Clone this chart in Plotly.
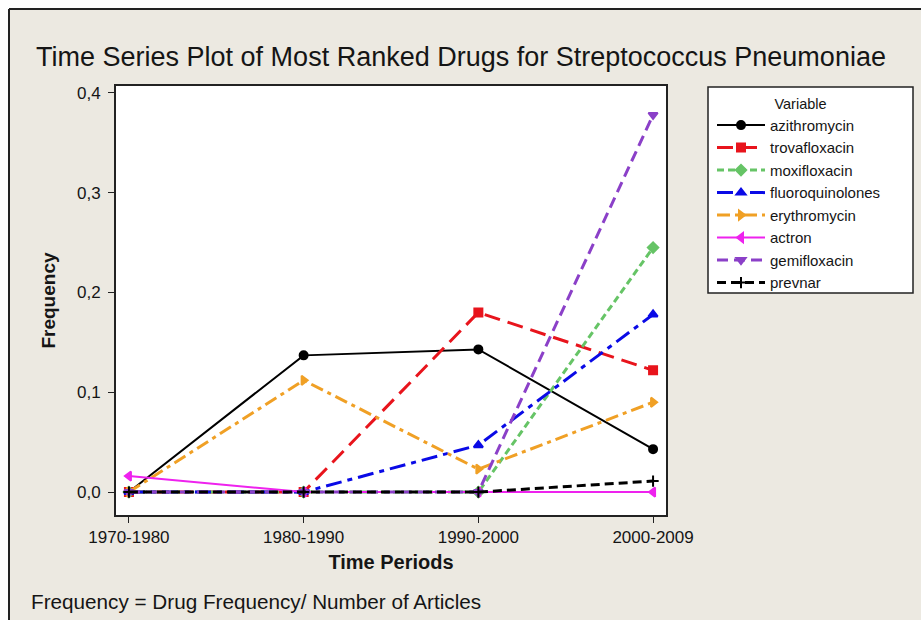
import plotly.graph_objects as go

# Time periods on the x axis
periods = ["1970-1980", "1980-1990", "1990-2000", "2000-2009"]

# Frequency (drug frequency / number of articles) per period
azithromycin = [0.0, 0.137, 0.143, 0.043]
trovafloxacin = [0.0, 0.0, 0.180, 0.122]
moxifloxacin = [0.0, 0.0, 0.0, 0.245]
fluoroquinolones = [0.0, 0.0, 0.047, 0.178]
erythromycin = [0.0, 0.112, 0.023, 0.090]
actron = [0.016, 0.0, 0.0, 0.0]
gemifloxacin = [0.0, 0.0, 0.0, 0.378]
prevnar = [0.0, 0.0, 0.0, 0.011]

y_ticks = [0.0, 0.1, 0.2, 0.3, 0.4]

series = [
    ("azithromycin", azithromycin, "#000000", "solid", "circle", 2),
    ("trovafloxacin", trovafloxacin, "#E8141C", "16px,8px", "square", 3),
    ("moxifloxacin", moxifloxacin, "#66C466", "7px,4px", "diamond", 3),
    ("fluoroquinolones", fluoroquinolones, "#0A0AE6", "16px,6px,5px,6px", "triangle-up", 3),
    ("erythromycin", erythromycin, "#F0A025", "13px,5px,4px,5px", "triangle-right", 3),
    ("actron", actron, "#EE22EE", "solid", "triangle-left", 2),
    ("gemifloxacin", gemifloxacin, "#8B40C8", "11px,6px", "triangle-down", 3),
    ("prevnar", prevnar, "#000000", "9px,5px", "cross-thin", 3),
]

x_idx = list(range(len(periods)))

fig = go.Figure()
for i, (name, vals, color, dash, symbol, width) in enumerate(series):
    fig.add_trace(go.Scatter(
        x=x_idx, y=vals, name=name, mode="lines+markers",
        legendgroup=f"g{i}",
        line=dict(color=color, width=width, dash=dash),
        marker=dict(symbol=symbol, size=8, color=color,
                    line=dict(color=color, width=2)),
    ))

BG = "#ECE9E1"
FONT = "Liberation Sans"
INK = "#151515"

# plot area in pixels: x 116..666, y 86..515
L, R, T, B = 116, 666, 86, 515
W, H = 921, 620


def px(xp):
    return (xp - L) / (R - L)


def py(yp):
    return (B - yp) / (B - T)


fig.update_layout(
    width=W, height=H,
    margin=dict(l=L, r=W - R, t=T, b=H - B),
    paper_bgcolor=BG, plot_bgcolor="white",
    separators=", ",
    font=dict(family=FONT, color=INK, size=15),
    title=dict(text="Time Series Plot of Most Ranked Drugs for Streptococcus Pneumoniae",
               x=461 / W, xref="container", xanchor="center",
               y=1 - 57 / H, yref="container", yanchor="middle",
               font=dict(family=FONT, size=27, color=INK)),
    showlegend=True,
    legend=dict(
        x=px(712), y=py(90), xanchor="left", yanchor="top",
        bgcolor="rgba(0,0,0,0)", borderwidth=0,
        title=dict(text="               Variable", font=dict(size=14.5, family=FONT)),
        font=dict(size=15, family=FONT),
        tracegroupgap=0, itemwidth=48,
    ),
    xaxis=dict(
        range=[-0.074, 3.074], tickvals=x_idx, ticktext=periods,
        showgrid=False, zeroline=False,
        showline=True, linecolor="#222222", linewidth=2, mirror=True,
        ticks="outside", ticklen=6, tickcolor="#222222", tickwidth=1,
        tickfont=dict(size=17, family=FONT),
        title=dict(text="<b>Time Periods</b>", font=dict(size=20, family=FONT), standoff=9),
    ),
    yaxis=dict(
        range=[-0.023, 0.407], tickvals=y_ticks, tickformat=".1f",
        showgrid=False, zeroline=False,
        showline=True, linecolor="#222222", linewidth=2, mirror=True,
        ticks="outside", ticklen=6, tickcolor="#222222", tickwidth=1,
        ticklabelstandoff=4,
        tickfont=dict(size=17, family=FONT),
        title=dict(text="<b>Frequency</b>", font=dict(size=19, family=FONT), standoff=16),
    ),
)

# legend box, outer frame
fig.add_shape(type="rect", xref="paper", yref="paper",
              x0=px(708), x1=px(913), y0=py(293), y1=py(87),
              line=dict(color="#222222", width=1.5), fillcolor="white", layer="below")
fig.add_shape(type="line", xref="paper", yref="paper",
              x0=px(9), x1=px(921), y0=py(9), y1=py(9),
              line=dict(color="#222222", width=2))
fig.add_shape(type="line", xref="paper", yref="paper",
              x0=px(9), x1=px(9), y0=py(9), y1=py(620),
              line=dict(color="#222222", width=2))
fig.add_shape(type="rect", xref="paper", yref="paper",
              x0=px(0), x1=px(921), y0=py(9), y1=py(0),
              line=dict(width=0), fillcolor="white", layer="below")
fig.add_shape(type="rect", xref="paper", yref="paper",
              x0=px(0), x1=px(9), y0=py(620), y1=py(0),
              line=dict(width=0), fillcolor="white", layer="below")

fig.add_annotation(text="Frequency = Drug Frequency/ Number of Articles",
                   xref="paper", yref="paper", x=px(29), y=py(601),
                   xanchor="left", yanchor="middle", showarrow=False,
                   font=dict(size=20.7, family=FONT, color=INK))

fig.write_html("out.html")
